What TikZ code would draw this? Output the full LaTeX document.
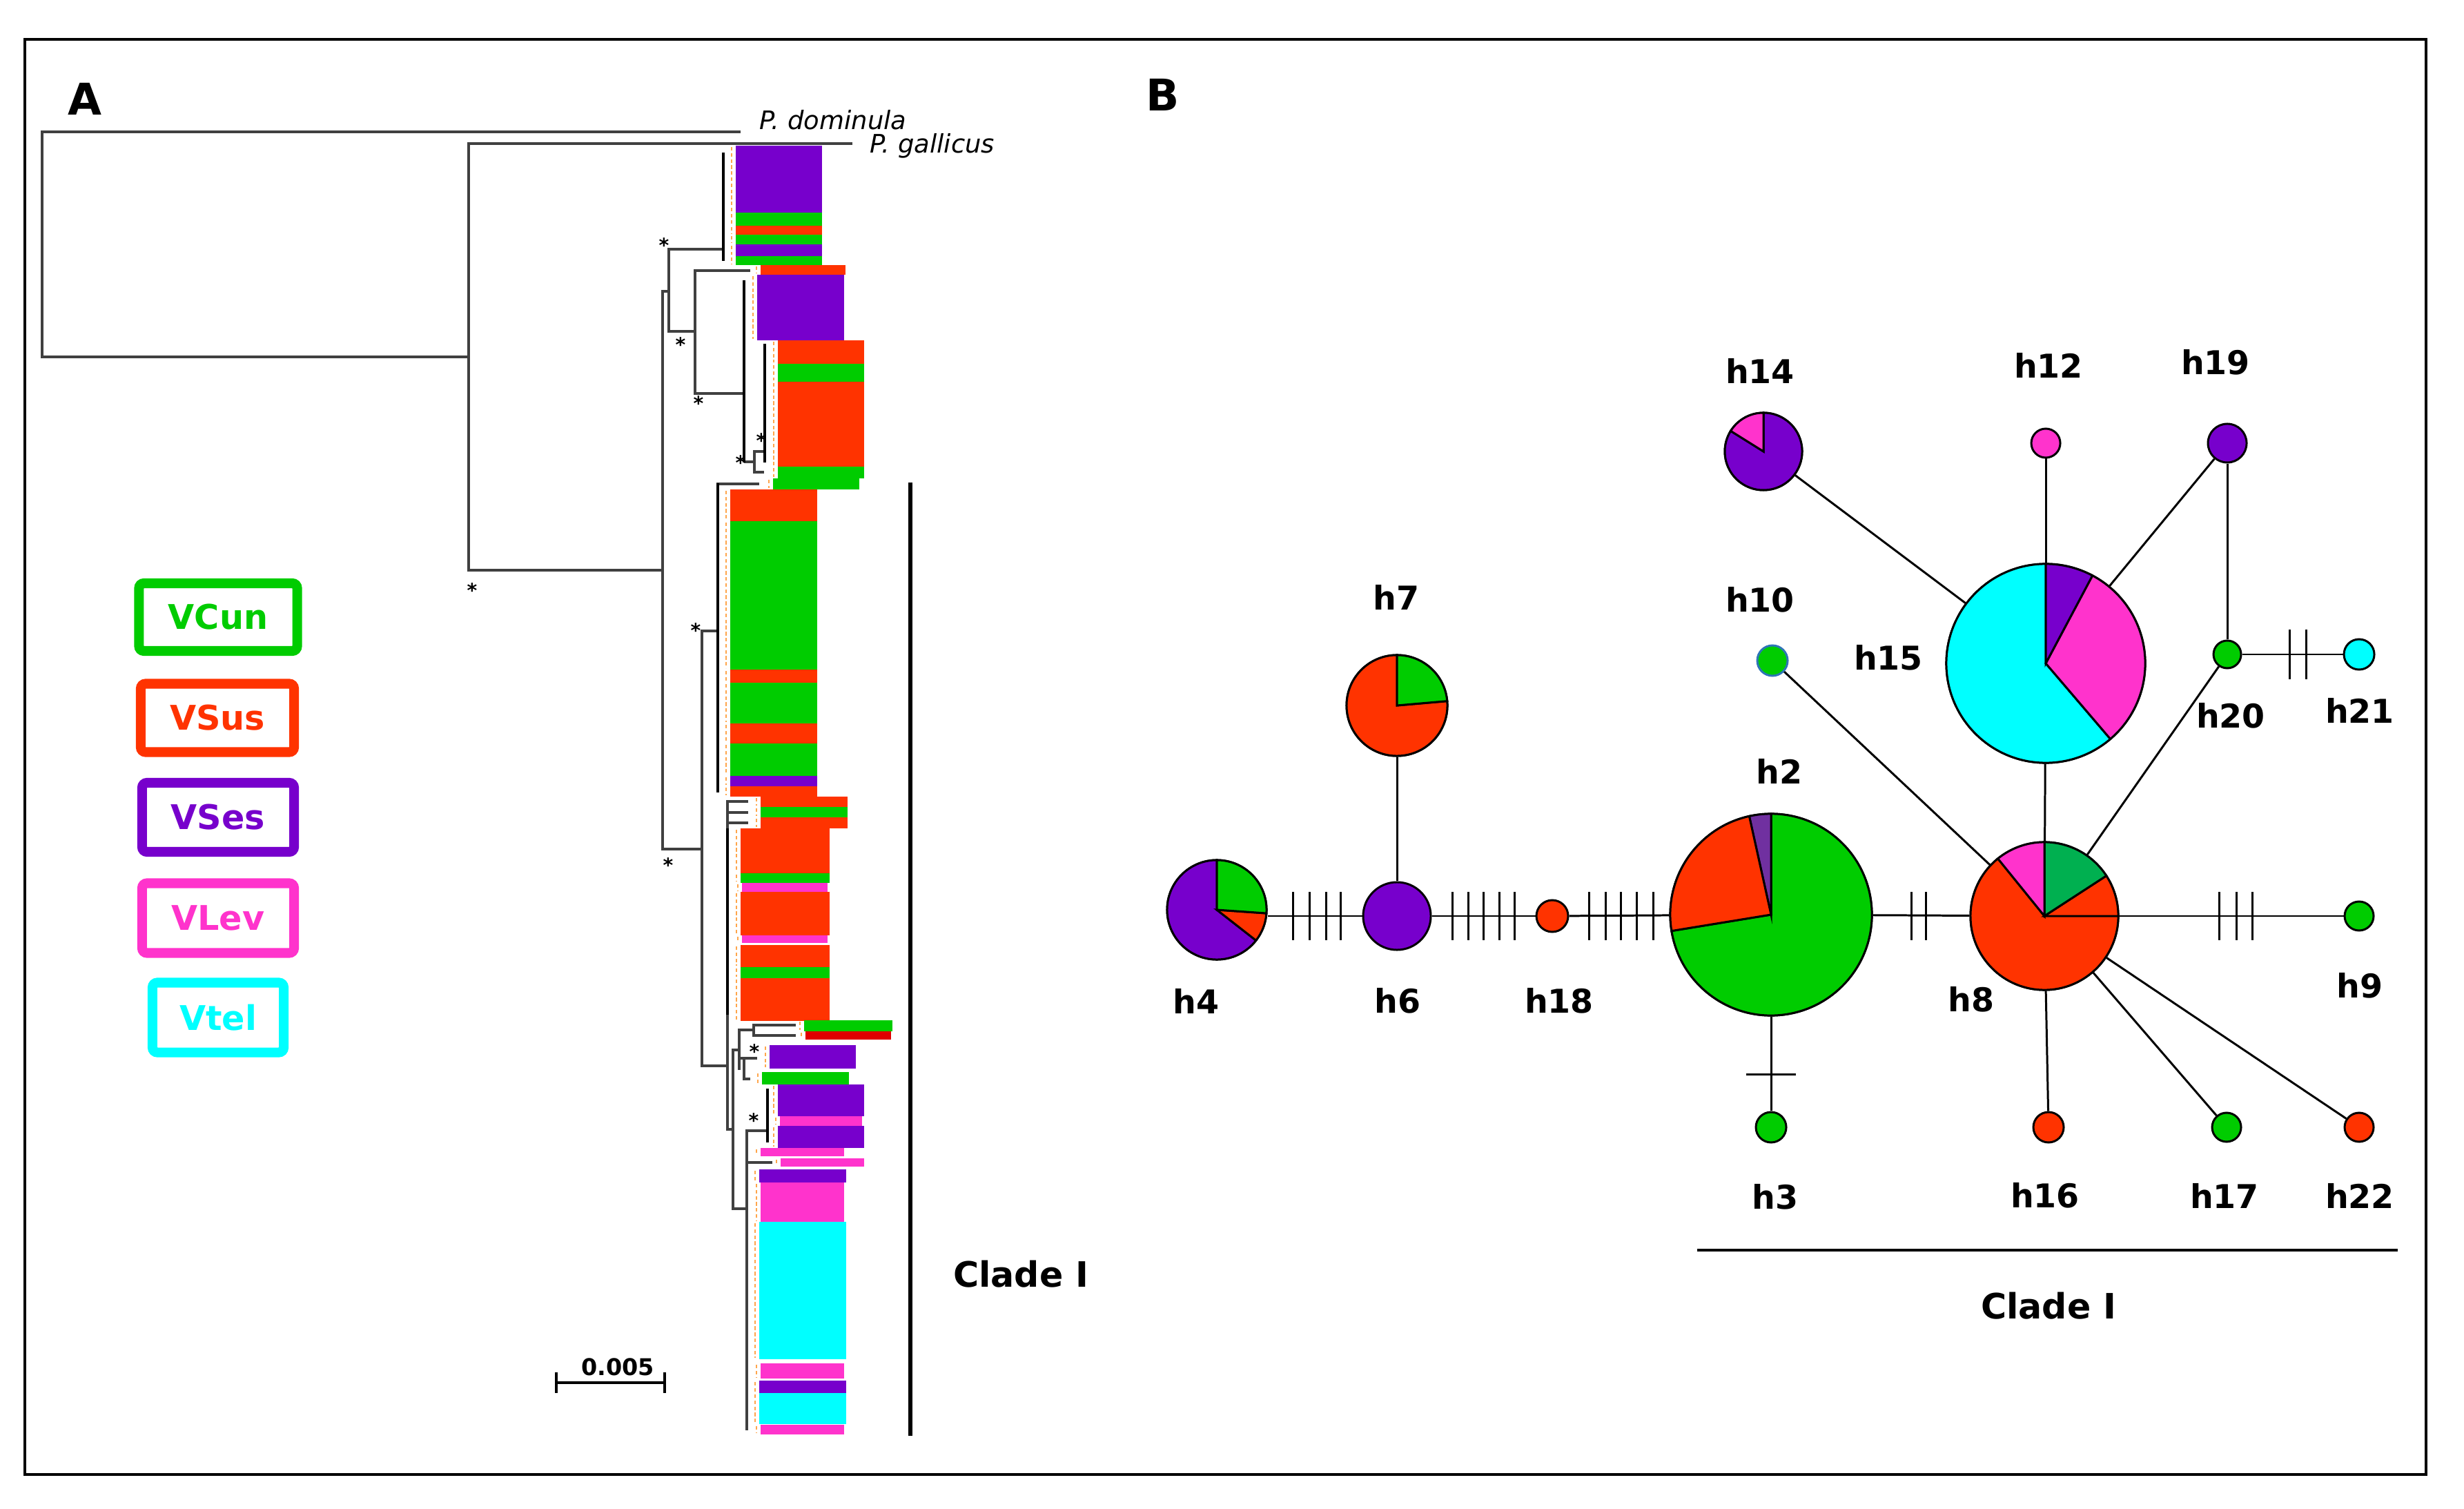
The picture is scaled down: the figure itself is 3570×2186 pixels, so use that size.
\documentclass[tikz,border=0pt]{standalone}
\usepackage{fontspec}
\setmainfont{DejaVu Sans}
\definecolor{vcun}{RGB}{0,204,0}
\definecolor{vsus}{RGB}{255,51,0}
\definecolor{vses}{RGB}{119,0,204}
\definecolor{vlev}{RGB}{255,51,204}
\definecolor{vtel}{RGB}{0,255,255}
\definecolor{hpurple}{RGB}{112,48,160}
\definecolor{hgreen}{RGB}{0,176,80}
\definecolor{darkred}{RGB}{224,0,0}
\definecolor{hblue}{RGB}{46,117,182}
\tikzset{
  branch/.style={draw=black!75, line width=1.05pt},
  tipbar/.style={draw=black, line width=1.3pt},
  tiplab/.style={draw=orange!70, line width=0.4pt, dash pattern=on 1.5pt off 1pt},
  hap/.style={circle, draw=black, line width=0.85pt, inner sep=0pt},
  hlab/.style={font=\fontsize{13.5}{16}\selectfont\bfseries, inner sep=0pt},
  link/.style={draw=black, line width=0.85pt},
  mut/.style={draw=black, line width=0.85pt},
  legbox/.style={draw, line width=4pt, rounded corners=2pt, font=\fontsize{14}{17}\selectfont\bfseries, inner sep=0pt},
  star/.style={font=\fontsize{8}{8}\selectfont\bfseries, inner sep=0pt},
  panel/.style={font=\fontsize{18}{20}\selectfont\bfseries, inner sep=0pt}
}
% centre, radius (cm), start angle, end angle, colour
\newcommand{\pieslice}[5]{%
  \filldraw[fill=#5, draw=black, line width=0.85pt] (#1) -- ++(#3:#2cm) arc[start angle=#3, end angle=#4, radius=#2cm] -- cycle;}
\begin{document}
\begin{tikzpicture}[x=0.01cm, y=-0.01cm]
\useasboundingbox (0,0) rectangle (3570,2186);
\fill[white] (0,0) rectangle (3570,2186);
\draw[line width=1.1pt] (36,57) rectangle (3515,2136);

%% panel A: tree
\node[panel] (pa) at (123,143) {A};
\draw[branch] (1073,191) -| (61,517) -- (679,517);
\draw[branch] (1235,208) -| (679,826) -- (960,826);
\node[anchor=base west, font=\fontsize{10.5}{12}\selectfont\itshape, inner sep=0pt] (dom) at (1100,188) {P. dominula};
\node[anchor=base west, font=\fontsize{10.5}{12}\selectfont\itshape, inner sep=0pt] (gal) at (1260,222) {P. gallicus};
\draw[branch] (969,422) -| (960,1230) -- (1017,1230);
\draw[branch] (1048,361) -| (969,480) -- (1007,480);
\draw[branch] (1087,392) -| (1007,570) -- (1078,570);
\draw[branch] (1078,669) -- (1093,669);
\draw[branch] (1108,654) -| (1093,684) -- (1107,684);
\draw[branch] (1100,701) -| (1040,1148);
\draw[branch] (1040,914) -| (1017,1544) -- (1054,1544);
\draw[branch] (1084,1161) -| (1054,1636) -- (1062,1636);
\draw[branch] (1054,1177) -- (1084,1177);
\draw[branch] (1054,1192) -- (1084,1192);
\draw[branch] (1071,1521) -| (1062,1751) -- (1082,1751);
\draw[branch] (1153,1485) -| (1092,1500) -- (1153,1500);
\draw[branch] (1092,1492) -| (1071,1550);
\draw[branch] (1071,1533) -- (1097,1533);
\draw[branch] (1078,1535) |- (1087,1563);
\draw[branch] (1112,1638) -| (1082,2072);
\draw[branch] (1082,1684) -- (1119,1684);
\draw[tipbar] (1048,221) -- (1048,378);
\draw[tipbar] (1078,406) -- (1078,670);
\draw[tipbar] (1108,498) -- (1108,670);
\draw[tipbar] (1040,700) -- (1040,1148);
\draw[tipbar] (1054,1200) -- (1054,1470);
\draw[tipbar] (1112,1577) -- (1112,1655);
\foreach \xa/\ya/\xb/\yb/\col in {
  1066/211/1191/308/vses, 1066/308/1191/327/vcun, 1066/327/1191/340/vsus,
  1066/340/1191/354/vcun, 1066/354/1191/371/vses, 1066/371/1191/384/vcun,
  1102/384/1225/398/vsus, 1097/398/1223/493/vses,
  1127/493/1252/527/vsus, 1127/527/1252/553/vcun, 1127/553/1252/676/vsus,
  1127/676/1252/693/vcun, 1120/693/1245/709/vcun,
  1058/709/1184/755/vsus, 1058/755/1184/970/vcun, 1058/970/1184/989/vsus,
  1058/989/1184/1048/vcun, 1058/1048/1184/1077/vsus, 1058/1077/1184/1124/vcun,
  1058/1124/1184/1139/vses, 1058/1139/1184/1154/vsus,
  1102/1154/1228/1169/vsus, 1102/1169/1228/1184/vcun, 1102/1184/1228/1200/vsus,
  1073/1200/1202/1265/vsus, 1073/1265/1202/1279/vcun, 1075/1279/1199/1292/vlev,
  1073/1292/1202/1355/vsus, 1075/1355/1199/1366/vlev, 1073/1369/1202/1401/vsus,
  1073/1401/1202/1417/vcun, 1073/1417/1202/1479/vsus,
  1165/1478/1293/1494/vcun, 1167/1494/1291/1506/darkred,
  1115/1514/1240/1548/vses, 1104/1553/1230/1571/vcun,
  1127/1571/1252/1617/vses, 1130/1617/1249/1631/vlev, 1127/1631/1252/1663/vses,
  1102/1663/1223/1675/vlev, 1131/1678/1252/1690/vlev, 1100/1694/1226/1713/vses,
  1102/1713/1223/1770/vlev, 1100/1770/1226/1969/vtel, 1102/1975/1223/1997/vlev,
  1100/2000/1226/2018/vses, 1100/2018/1226/2063/vtel, 1102/2064/1223/2078/vlev}{
  \fill[\col] (\xa,\ya) rectangle (\xb,\yb);
  \draw[tiplab] (\xa-6,\ya+2) -- (\xa-6,\yb-2);
}
\foreach \sx/\sy [count=\i] in {684/855, 962/355, 986/499, 1012/584, 1103/638, 1073/670,
  1008/913, 968/1253, 1093/1523, 1092/1623}
  \node[star] (s\i) at (\sx,\sy) {*};
\draw[line width=1.7pt] (1319,699) -- (1319,2080);
\node[hlab, font=\fontsize{14.4}{17}\selectfont\bfseries] (cladeA) at (1479,1846) {Clade I};
% scale bar
\draw[line width=1.4pt] (806,2003) -- (963,2003);
\draw[line width=1.4pt] (806,1988) -- (806,2018);
\draw[line width=1.4pt] (963,1988) -- (963,2018);
\node[font=\fontsize{9.5}{11}\selectfont\bfseries, inner sep=0pt] (sbar) at (895,1980) {0.005};

% legend
\node[legbox, draw=vcun, text=vcun, minimum width=2.29cm, minimum height=0.98cm] (vcun) at (316,894) {VCun};
\node[legbox, draw=vsus, text=vsus, minimum width=2.22cm, minimum height=0.99cm] (vsus) at (315,1040) {VSus};
\node[legbox, draw=vses, text=vses, minimum width=2.20cm, minimum height=1.00cm] (vses) at (316,1184) {VSes};
\node[legbox, draw=vlev, text=vlev, minimum width=2.20cm, minimum height=1.01cm] (vlev) at (316,1330) {VLev};
\node[legbox, draw=vtel, text=vtel, minimum width=1.90cm, minimum height=1.01cm] (vtel) at (316,1474) {Vtel};

%% panel B: haplotype network
\node[panel] (pb) at (1685,137) {B};
\node[hap, minimum size=1.44cm] (h4) at (1763,1318) {};
\node[hap, minimum size=0.98cm, fill=vses] (h6) at (2024,1327) {};
\node[hap, minimum size=1.46cm] (h7) at (2024,1022) {};
\node[hap, minimum size=0.46cm, fill=vsus] (h18) at (2249,1327) {};
\node[hap, minimum size=2.92cm] (h2) at (2566,1325) {};
\node[hap, minimum size=0.44cm, fill=vcun] (h3) at (2566,1633) {};
\node[hap, minimum size=0.44cm, fill=vcun, draw=hblue] (h10) at (2568,957) {};
\node[hap, minimum size=2.14cm] (h8) at (2962,1327) {};
\node[hap, minimum size=0.42cm, fill=vcun] (h9) at (3418,1327) {};
\node[hap, minimum size=0.44cm, fill=vsus] (h16) at (2968,1633) {};
\node[hap, minimum size=0.42cm, fill=vcun] (h17) at (3226,1633) {};
\node[hap, minimum size=0.42cm, fill=vsus] (h22) at (3418,1633) {};
\node[hap, minimum size=2.88cm] (h15) at (2964,961) {};
\node[hap, minimum size=1.12cm] (h14) at (2555,654) {};
\node[hap, minimum size=0.42cm, fill=vlev] (h12) at (2964,642) {};
\node[hap, minimum size=0.56cm, fill=vses] (h19) at (3227,642) {};
\node[hap, minimum size=0.40cm, fill=vcun] (h20) at (3227,948) {};
\node[hap, minimum size=0.44cm, fill=vtel] (h21) at (3418,948) {};

\pieslice{h4.center}{0.72}{90}{322}{vses}
\pieslice{h4.center}{0.72}{-38}{-4}{vsus}
\pieslice{h4.center}{0.72}{-4}{90}{vcun}
\pieslice{h7.center}{0.73}{90}{365}{vsus}
\pieslice{h7.center}{0.73}{5}{90}{vcun}
\pieslice{h2.center}{1.46}{-170.7}{90}{vcun}
\pieslice{h2.center}{1.46}{90}{102.5}{hpurple}
\pieslice{h2.center}{1.46}{102.5}{189.3}{vsus}
\pieslice{h8.center}{1.07}{129}{360}{vsus}
\pieslice{h8.center}{1.07}{0}{33}{vsus}
\pieslice{h8.center}{1.07}{33}{90}{hgreen}
\pieslice{h8.center}{1.07}{90}{129}{vlev}
\pieslice{h15.center}{1.44}{90}{310.5}{vtel}
\pieslice{h15.center}{1.44}{-49.5}{62}{vlev}
\pieslice{h15.center}{1.44}{62}{90}{vses}
\pieslice{h14.center}{0.56}{148}{450}{vses}
\pieslice{h14.center}{0.56}{90}{148}{vlev}

\draw[link] (h7) -- (h6);
\draw[link] (h4.east |- h6) -- (h6);
\draw[link] (h6) -- (h18);
\draw[link] (h18) -- (h2);
\draw[link] (h2) -- (h8);
\draw[link] (h8) -- (h9);
\draw[link] (h2) -- (h3);
\draw[link] (h10) -- (h8);
\draw[link] (h15) -- (h8);
\draw[link] (h8) -- (h16);
\draw[link] (h8) -- (h17);
\draw[link] (h8) -- (h22);
\draw[link] (h8) -- (h20);
\draw[link] (h14) -- (h15);
\draw[link] (h12) -- (h15);
\draw[link] (h19) -- (h15);
\draw[link] (h19) -- (h20);
\draw[link] (h20) -- (h21);

% mutation steps
\foreach \x in {1873,1897,1921,1942, 2104,2127,2149,2172,2194, 2302,2326,2348,2371,2395}
  \draw[mut] (\x,1292) -- (\x,1362);
\foreach \x in {2769,2790, 3215,3240,3263}
  \draw[mut] (\x,1292) -- (\x,1362);
\foreach \x in {3317,3341}
  \draw[mut] (\x,912) -- (\x,984);
\draw[mut] (2530,1556) -- (2602,1556);

\node[hlab] (l4) at (1733,1450) {h4};
\node[hlab] (l6) at (2025,1450) {h6};
\node[hlab] (l7) at (2023,865) {h7};
\node[hlab] (l18) at (2259,1450) {h18};
\node[hlab] (l2) at (2578,1117) {h2};
\node[hlab] (l3) at (2572,1734) {h3};
\node[hlab] (l10) at (2550,869) {h10};
\node[hlab] (l8) at (2856,1448) {h8};
\node[hlab] (l9) at (3419,1428) {h9};
\node[hlab] (l16) at (2963,1732) {h16};
\node[hlab] (l17) at (3223,1732) {h17};
\node[hlab] (l22) at (3419,1732) {h22};
\node[hlab] (l15) at (2736,953) {h15};
\node[hlab] (l14) at (2550,537) {h14};
\node[hlab] (l12) at (2968,529) {h12};
\node[hlab] (l19) at (3210,525) {h19};
\node[hlab] (l20) at (3232,1037) {h20};
\node[hlab] (l21) at (3419,1029) {h21};

\draw[line width=1.4pt] (2459,1811) -- (3474,1811);
\node[hlab, font=\fontsize{14.4}{17}\selectfont\bfseries] (cladeB) at (2968,1892) {Clade I};
\end{tikzpicture}
\end{document}
